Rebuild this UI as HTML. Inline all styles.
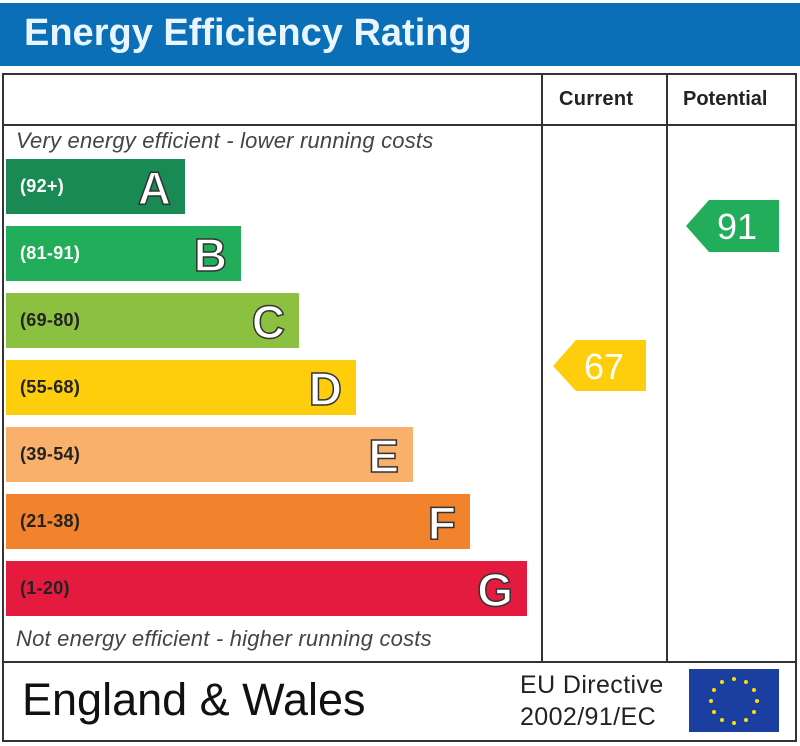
<!DOCTYPE html><html><head><style>
body{margin:0;width:800px;height:746px;background:#fff;position:relative;font-family:"Liberation Sans",sans-serif;overflow:hidden}
.a{position:absolute}
.bar{position:absolute;left:6px;height:55px}
.bar .r{position:absolute;left:14px;top:17px;font-size:18px;font-weight:bold;color:#222;letter-spacing:0.3px}
.bar .l{position:absolute;right:14px;top:2px;font-size:46px;font-weight:bold;color:#fff;-webkit-text-stroke:1.5px #333}
.it{position:absolute;left:16px;font-style:italic;font-size:22px;color:#444;letter-spacing:0.2px}
</style></head><body>
<div class="a" style="left:0;top:3px;width:800px;height:63px;background:#0b6fb8"></div>
<div class="a" style="left:24px;top:12px;font-size:38px;font-weight:bold;color:#eaf6ff;letter-spacing:0px">Energy Efficiency Rating</div>
<div class="a" style="left:2px;top:73px;width:791px;height:665px;border:2px solid #333"></div>
<div class="a" style="left:2px;top:124px;width:795px;height:2px;background:#333"></div>
<div class="a" style="left:2px;top:661px;width:795px;height:2px;background:#333"></div>
<div class="a" style="left:541px;top:73px;width:2px;height:590px;background:#333"></div>
<div class="a" style="left:666px;top:73px;width:2px;height:590px;background:#333"></div>
<div class="a" style="left:559px;top:88px;font-size:20px;font-weight:bold;color:#222;letter-spacing:0.3px">Current</div>
<div class="a" style="left:683px;top:88px;font-size:20px;font-weight:bold;color:#222;letter-spacing:0px">Potential</div>
<div class="it" style="top:128px">Very energy efficient - lower running costs</div>
<div class="it" style="top:626px">Not energy efficient - higher running costs</div>
<div class="bar" style="top:159px;width:179px;background:#1a8a55"><span class="r" style="color:#fff">(92+)</span><span class="l">A</span></div>
<div class="bar" style="top:226px;width:235px;background:#22ad5a"><span class="r" style="color:#fff">(81-91)</span><span class="l">B</span></div>
<div class="bar" style="top:293px;width:293px;background:#8cc041"><span class="r">(69-80)</span><span class="l">C</span></div>
<div class="bar" style="top:360px;width:350px;background:#fecd0b"><span class="r">(55-68)</span><span class="l">D</span></div>
<div class="bar" style="top:427px;width:407px;background:#f9b06b"><span class="r">(39-54)</span><span class="l">E</span></div>
<div class="bar" style="top:494px;width:464px;background:#f2822b"><span class="r">(21-38)</span><span class="l">F</span></div>
<div class="bar" style="top:561px;width:521px;background:#e41b3e"><span class="r">(1-20)</span><span class="l">G</span></div>
<svg class="a" style="left:0;top:0" width="800" height="746">
<polygon points="553,366 576,340 646,340 646,391 576,391" fill="#fecd0b"/>
<polygon points="686,226 709,200 779,200 779,252 709,252" fill="#22ad5a"/>
<text x="604" y="379" font-size="36" fill="#fff" text-anchor="middle" font-family="Liberation Sans">67</text>
<text x="737" y="239" font-size="36" fill="#fff" text-anchor="middle" font-family="Liberation Sans">91</text>
<rect x="689" y="669" width="90" height="63" fill="#1a3fa0"/>
<g fill="#ffdd00">
<circle cx="734" cy="679" r="2"/><circle cx="746" cy="682" r="2"/><circle cx="754" cy="690" r="2"/><circle cx="757" cy="701" r="2"/><circle cx="754" cy="712" r="2"/><circle cx="746" cy="720" r="2"/><circle cx="734" cy="723" r="2"/><circle cx="722" cy="720" r="2"/><circle cx="714" cy="712" r="2"/><circle cx="711" cy="701" r="2"/><circle cx="714" cy="690" r="2"/><circle cx="722" cy="682" r="2"/>
</g></svg>
<div class="a" style="left:22px;top:674px;font-size:45px;color:#111;letter-spacing:0px">England &amp; Wales</div>
<div class="a" style="left:520px;top:669px;font-size:25px;color:#222;line-height:32px;letter-spacing:0.4px">EU Directive<br>2002/91/EC</div>
</body></html>
